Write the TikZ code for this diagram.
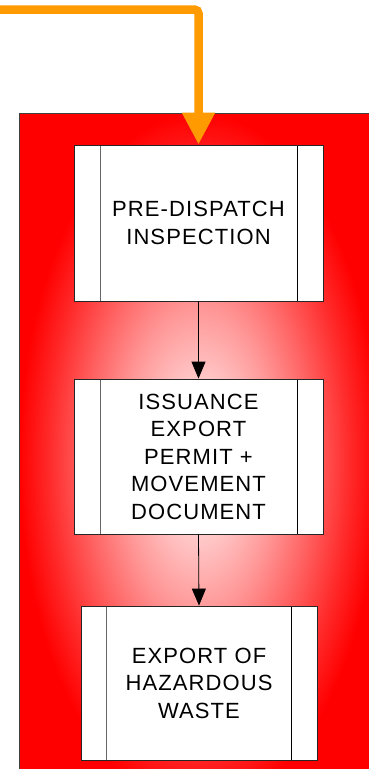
\documentclass[tikz,border=0pt]{standalone}
\usepackage{fontspec}
\setmainfont{Liberation Sans}
\usetikzlibrary{arrows.meta}
\definecolor{flowor}{RGB}{255,155,0}
\pgfdeclareradialshading{redglow}{\pgfpoint{0bp}{0bp}}{color(0bp)=(red!8!white); color(5.5bp)=(red!21!white); color(11bp)=(red!41!white); color(16bp)=(red!62!white); color(21bp)=(red!84!white); color(25bp)=(red); color(50bp)=(red)}
\tikzset{
  sideband/.store in=\procside, sideband=26pt,
  procbox/.style={draw=black!85, fill=white, line width=0.8pt, inner sep=0pt,
    align=center, font={\fontsize{22pt}{27.5pt}\selectfont\addfontfeature{LetterSpace=5}},
    path picture={
      \draw[black!60, line width=0.9pt] ([xshift=\procside]path picture bounding box.north west) -- ([xshift=\procside]path picture bounding box.south west);
      \draw[black, line width=0.9pt] ([xshift=-\procside]path picture bounding box.north east) -- ([xshift=-\procside]path picture bounding box.south east);
    }},
  flowarrow/.style={draw=black, line width=0.8pt, -{Triangle[length=17pt,width=14pt]}},
}
\begin{document}
\begin{tikzpicture}[x=1pt,y=-1pt]
\useasboundingbox (0,0) rectangle (369,769);
\clip (0,0) rectangle (369,769);
\fill[white] (0,0) rectangle (369,769);
% red panel with glow
\shade[shading=redglow, draw=black!75, line width=0.9pt] (19,113) rectangle (379,807);
% process boxes
\node[procbox, minimum width=249pt, minimum height=156pt] (pdi) at (198.5,223) {PRE-DISPATCH\\INSPECTION};
\node[procbox, minimum width=249pt, minimum height=155pt] (iep) at (198.5,456.5) {ISSUANCE\\EXPORT\\PERMIT +\\MOVEMENT\\DOCUMENT};
\node[procbox, sideband=25.5pt, minimum width=236pt, minimum height=154pt] (ehw) at (199,683) {EXPORT OF\\HAZARDOUS\\WASTE};
% connectors
\draw[flowarrow] (pdi.south) -- (iep.north);
\draw[flowarrow] (iep.south) -- (ehw.north);
% incoming orange connector
\coordinate (src) at (-6,9.5);
\draw[flowor, line width=8.5pt, rounded corners=4pt, -{Triangle[length=32pt,width=31pt]}] (src) -- (198.5,9.5) -- (pdi.north);
\end{tikzpicture}
\end{document}
